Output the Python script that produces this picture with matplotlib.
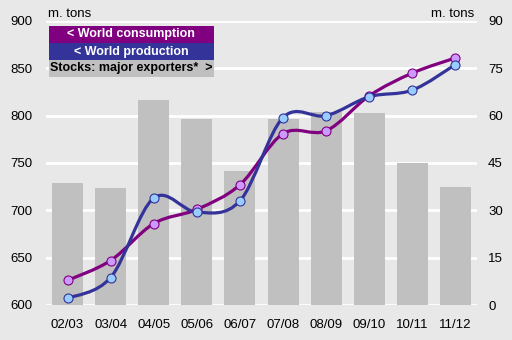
import numpy as np
import matplotlib
matplotlib.use("Agg")
import matplotlib.pyplot as plt
from matplotlib.path import Path
from matplotlib.patches import PathPatch, Rectangle

plt.rcParams['font.family'] = ['Liberation Sans', 'DejaVu Sans']

# marketing years
seasons = ["02/03", "03/04", "04/05", "05/06", "06/07", "07/08", "08/09", "09/10", "10/11", "11/12"]
# world consumption / production (m. tons, left axis)
consumption = [626, 647, 686, 701, 727, 781, 784, 821, 845, 861]
production = [607, 629, 713, 698, 710, 798, 800, 820, 827, 854]
# stocks of major exporters (m. tons, right axis)
stocks = [38.7, 37.1, 65.0, 59.0, 42.5, 59.0, 61.2, 60.8, 45.0, 37.4]

bg = "#E8E8E8"
bar_col = "#C0C0C0"
cons_col, cons_mk = "#800080", "#CC99FF"
prod_col, prod_mk = "#333399", "#99CCFF"


def smooth_path(x, y, k=1.0 / 6):
    # cubic bezier through the points, catmull-rom style tangents
    x = np.asarray(x, float)
    y = np.asarray(y, float)
    n = len(x)
    verts = [(x[0], y[0])]
    codes = [Path.MOVETO]
    for i in range(n - 1):
        i0 = max(i - 1, 0)
        i3 = min(i + 2, n - 1)
        c1 = (x[i] + (x[i + 1] - x[i0]) * k, y[i] + (y[i + 1] - y[i0]) * k)
        c2 = (x[i + 1] - (x[i3] - x[i]) * k, y[i + 1] - (y[i3] - y[i]) * k)
        verts += [c1, c2, (x[i + 1], y[i + 1])]
        codes += [Path.CURVE4] * 3
    return Path(verts, codes)


fig = plt.figure(figsize=(5.12, 3.4), dpi=100, facecolor=bg)
ax = fig.add_axes([46 / 512, 35 / 340, 431 / 512, 284 / 340])
ax.set_facecolor(bg)

xs = np.arange(len(seasons))

# stocks as bars on the right-hand scale
ax.bar(xs, stocks, width=0.72, color=bar_col, zorder=2)
ax.set_ylim(0, 90)
ax.set_yticks(np.arange(0, 91, 15))
ax.grid(axis='y', color='white', linewidth=2, zorder=0)
ax.set_axisbelow(True)
ax.set_xlim(-0.5, len(seasons) - 0.5)
ax.set_xticks(xs)
ax.set_xticklabels(seasons)
for s in ax.spines.values():
    s.set_visible(False)

# consumption and production on the left-hand scale
ax2 = ax.twinx()
ax2.set_ylim(600, 900)
ax2.set_yticks(np.arange(600, 901, 50))
ax2.yaxis.tick_left()
ax.yaxis.tick_right()
ax2.patch.set_visible(False)
for s in ax2.spines.values():
    s.set_visible(False)

ax.tick_params(length=0, labelsize=9.5, colors='black')
ax.tick_params(axis='y', pad=8)
ax.tick_params(axis='x', pad=10)
ax2.tick_params(length=0, labelsize=9.5, pad=10)

for vals, lc, mc in [(consumption, cons_col, cons_mk), (production, prod_col, prod_mk)]:
    ax2.add_patch(PathPatch(smooth_path(xs, vals), facecolor='none', edgecolor=lc,
                            linewidth=2.3, zorder=3))
    ax2.plot(xs, vals, linestyle='none', marker='o', markersize=6.5,
             markerfacecolor=mc, markeredgecolor=lc, markeredgewidth=0.8, zorder=4)

fig.text(48 / 512, 1 - 14 / 340, "m. tons", fontsize=9.5, va='center', ha='left')
fig.text(474 / 512, 1 - 14 / 340, "m. tons", fontsize=9.5, va='center', ha='right')

# legend blocks
legend_rows = [("< World consumption", cons_col, 'white'),
               ("< World production", prod_col, 'white'),
               ("Stocks: major exporters*  >", bar_col, 'black')]
for i, (txt, fc, tc) in enumerate(legend_rows):
    top = 26 + 17 * i
    fig.patches.append(Rectangle((49 / 512, 1 - (top + 17) / 340), 165 / 512, 17 / 340,
                                 transform=fig.transFigure, facecolor=fc, edgecolor='none',
                                 zorder=5))
    fig.text(131 / 512, 1 - (top + 8.5) / 340, txt, color=tc, fontsize=9,
             fontweight='bold', ha='center', va='center', zorder=6)

fig.savefig("out.png", dpi=100, facecolor=bg)
